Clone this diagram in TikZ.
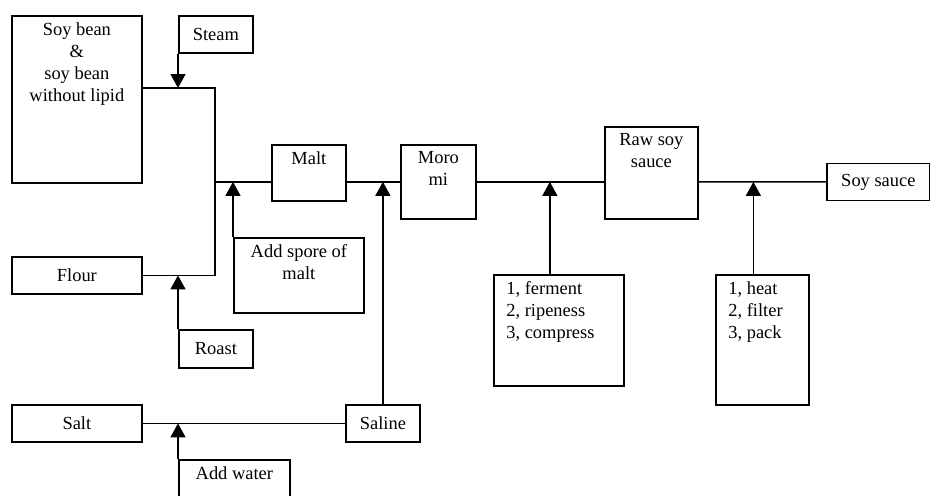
\documentclass[tikz,border=0pt]{standalone}
\usepackage{fontspec}
\setmainfont{Liberation Serif}
\usetikzlibrary{
  positioning,
  arrows.meta,
  calc
}
\tikzset{
  box/.style 2 args = {rectangle, draw=black, line width=1pt,
                       minimum width=#1*0.02cm, minimum height=#2*0.02cm,
                       inner sep=0pt, anchor=north west, align=center},
  toptext/.style    = {anchor=north, align=center, inner sep=4pt},
  lefttext/.style   = {anchor=north west, align=left,
                       inner xsep=0.26cm, inner ysep=4pt},
  line/.style       = {line width=0.8pt, draw=black},
  arrow/.style      = {-{Triangle[length=0.28cm, width=0.3cm]},
                       line width=0.8pt, draw=black}
}

\begin{document}
\begin{tikzpicture}[x=0.02cm, y=-0.02cm, font=\fontsize{10.5}{12.5}\selectfont]
\useasboundingbox (0,0) rectangle (930,495);
\clip (0,0) rectangle (930,495);

% raw materials
\node[box={130}{167}, label={[toptext]north:{Soy bean\\\&\\soy bean\\without lipid}}] (soy) at (11,15) {};
\node[box={74}{37}] (steam) at (178,15) {Steam};
\node[box={130}{37}] (flour) at (11,256) {Flour};
\node[box={74}{38}] (roast) at (178,329) {Roast};
\node[box={130}{37}] (salt) at (11,404) {Salt};
\node[box={111}{60}, label={[toptext]north:Add water}] (water) at (178,459) {};
\node[box={74}{37}] (saline) at (345,404) {Saline};

% process chain
\node[box={74}{56}, label={[toptext]north:Malt}] (malt) at (271,144) {};
\node[box={130}{75}, label={[toptext]north:{Add spore of\\malt}}] (spore) at (233,237) {};
\node[box={75}{74}, label={[toptext]north:{Moro\\mi}}] (moromi) at (400,144) {};
\node[box={93}{92}, label={[toptext]north:{Raw soy\\sauce}}] (raw) at (604,126) {};
\node[box={130}{111}, label={[lefttext]north west:{1, ferment\\2, ripeness\\3, compress}}] (ferm) at (493,274) {};
\node[box={93}{130}, label={[lefttext]north west:{1, heat\\2, filter\\3, pack}}] (heat) at (715,274) {};
\node[box={103}{37}] (sauce) at (826,162.5) {Soy sauce};

% junctions
\coordinate (jtop) at (215,88);
\coordinate (jmid) at (jtop |- moromi.west);
\coordinate (fermin) at ($(ferm.north)+(-9,0)$);
\coordinate (heatin) at ($(heat.north)+(-9,0)$);

% lines
\draw[line] (soy.east |- jtop) -- (jtop) -- (jtop |- flour.east) -- (flour.east);
\draw[line] (jmid) -- (malt.west |- jmid);
\draw[line] (malt.east |- jmid) -- (moromi.west);
\draw[line] (moromi.east) -- (raw.west |- moromi.east);
\draw[line] (raw.east |- moromi.east) -- (sauce.west);
\draw[line] (salt.east) -- (saline.west);

% inputs
\draw[arrow] (steam.south west) -- (steam.south west |- jtop);
\draw[arrow] (roast.north west) -- (roast.north west |- flour.east);
\draw[arrow] (spore.north west) -- (spore.north west |- jmid);
\draw[arrow] (saline.north) -- (saline.north |- jmid);
\draw[arrow] (water.north west) -- (water.north west |- salt.east);
\draw[arrow] (fermin) -- (fermin |- jmid);
\draw[arrow] (heatin) -- (heatin |- jmid);
\end{tikzpicture}
\end{document}
